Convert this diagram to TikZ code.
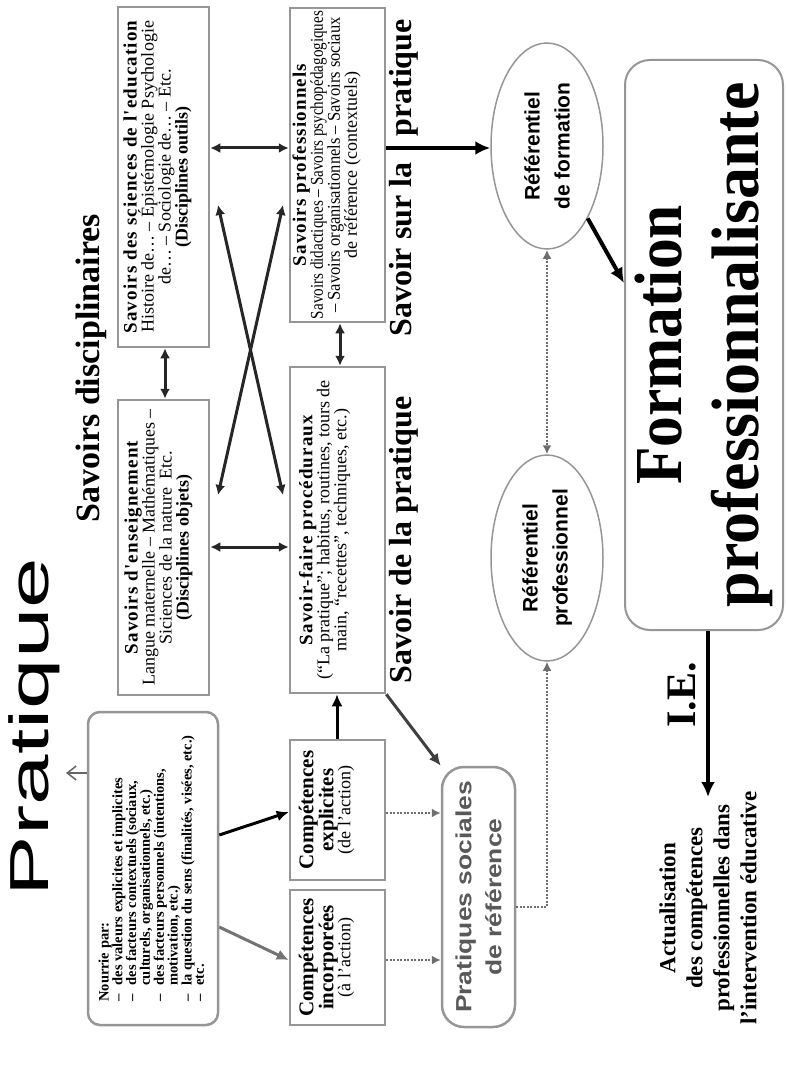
\documentclass[tikz,border=0pt]{standalone}
\usepackage{fontspec}
\setmainfont{Liberation Serif}
\newfontfamily\arialf{Liberation Sans}
\newfontfamily\spacedserif[LetterSpace=6]{Liberation Serif}
\usetikzlibrary{arrows.meta,shapes.geometric,calc}
\definecolor{boxgray}{RGB}{150,150,150}
\definecolor{dotgray}{RGB}{110,110,110}
\newcommand\myfs[2]{\fontsize{#1}{#2}\selectfont}
\newcommand\cbf[1]{{\bfseries\myfs{21}{17}#1}}
\begin{document}
\begin{tikzpicture}[x=1pt,y=-1pt,
  box/.style={draw=boxgray, line width=2.5pt, rotate=90, inner sep=0pt, fill=white},
  rbox/.style={box, rounded corners=#1},
  btext/.style={rotate=90, inner sep=0pt, align=center, font=\myfs{18}{17}},
  ell/.style={draw=boxgray, line width=1.5pt, ellipse, rotate=90, inner sep=0pt, align=center, font=\arialf\bfseries\myfs{21}{30}},
  rtext/.style={rotate=90, inner sep=0pt, align=center},
  heading/.style={rtext, font=\bfseries\myfs{32}{32}},
  thickarr/.style={line width=4pt, -{Latex[length=15pt,width=14pt]}},
  dblarr/.style={line width=3pt, black!85, {Latex[length=10pt,width=10pt]}-{Latex[length=10pt,width=10pt]}},
  sarr/.style={line width=3pt, -{Latex[length=12pt,width=11pt]}},
  dotarr/.style={line width=2pt, dotgray, dash pattern=on 2pt off 1.5pt, -{Latex[length=9pt,width=9pt]}},
  dotdbl/.style={line width=2pt, dotgray, dash pattern=on 2pt off 1.5pt, {Latex[length=9pt,width=9pt]}-{Latex[length=9pt,width=9pt]}}
]
\useasboundingbox (0,0) rectangle (786,1067);
\fill[white] (0,0) rectangle (786,1067);

% titles
\node[rtext, font=\arialf\myfs{55}{55}] (prat) at (34,727) {\scalebox{1.65}[1]{Pratique}};
\node[heading, font=\bfseries\myfs{34}{34}] (sdisc) at (91,368) {Savoirs disciplinaires};
\node[heading] (sdlp) at (404,540) {Savoir de la pratique};
\node[heading] (sslp) at (404,178) {Savoir sur la\hspace{26pt}pratique};

% boxes (shapes)
\node[box, minimum width=340pt, minimum height=91pt] (sci) at (163.5,177) {};
\node[box, minimum width=295pt, minimum height=91pt] (ens) at (163.5,547.5) {};
\node[box, minimum width=314pt, minimum height=95pt] (pro) at (337.5,165) {};
\node[box, minimum width=326pt, minimum height=95pt] (sf) at (337.5,530) {};
\node[box, minimum width=140pt, minimum height=95pt] (cexp) at (337.5,810) {};
\node[box, minimum width=135pt, minimum height=95pt] (cinc) at (337.5,957.5) {};

% box texts
\node[btext] (scit) at ([xshift=-6pt]sci.center)
  {{\spacedserif\bfseries\myfs{19}{17}Savoirs des sciences de l'education}\\
   Histoire de\ldots{} -- Épistémologie Psychologie\\
   de\ldots{} -- Sociologie de\ldots{} -- Etc.\\
   \textbf{(Disciplines outils)}};
\node[btext] (enst) at ([xshift=-5pt]ens.center)
  {{\spacedserif\bfseries\myfs{19}{17}Savoirs d'enseignement}\\
   Langue maternelle -- Mathématiques --\\
   Siciences de la nature~~Etc.\\
   \textbf{(Disciplines objets)}};
\node[btext] (prot) at ([xshift=-11pt]pro.center)
  {{\spacedserif\bfseries\myfs{19}{17}Savoirs professionnels}\\
   \scalebox{0.84}[1]{Savoirs didactiques -- Savoirs psychopédagogiques}\\
   \scalebox{0.92}[1]{-- Savoirs organisationnels -- Savoirs sociaux}\\
   de référence (contextuels)};
\node[btext] (sft) at ([xshift=-13pt]sf.center)
  {{\spacedserif\bfseries\myfs{19}{17}Savoir-faire procéduraux}\\
   (“La pratique”; habitus, routines, tours de\\
   main, “recettes”, techniques, etc.)};
\node[btext] (cexpt) at ([xshift=-11pt]cexp.center)
  {\cbf{Compétences}\\ \cbf{explicites}\\ (de l'action)};
\node[btext] (cinct) at ([xshift=-11pt]cinc.center)
  {\cbf{Compétences}\\ \cbf{incorporées}\\ (à l'action)};

\node[rbox=12pt, minimum width=313pt, minimum height=130pt, align=center, font=\bfseries\myfs{14.5}{12.3}] (nour) at (153,868.5)
  {\begin{tabular}{@{}l@{\hspace{9pt}}l@{}}
   \multicolumn{2}{@{}l}{Nourrie par:}\\
   -- & des valeurs explicites et implicites\\
   -- & des facteurs contextuels (sociaux,\\
      & culturels, organisationnels, etc.)\\
   -- & des facteurs personnels (intentions,\\
      & motivation, etc.)\\
   -- & la question du sens (finalités, visées, etc.)\\
   -- & etc.
   \end{tabular}};
\node[rbox=22pt, minimum width=260pt, minimum height=73pt, align=center, font=\arialf\bfseries\myfs{22}{30}, text=black!65] (psr) at (478.5,897)
  {\scalebox{1.2}[1]{Pratiques sociales}\\ \scalebox{1.2}[1]{de référence}};
\node[ell, minimum width=206pt, minimum height=112pt] (ef) at (547,146) {Référentiel\\ de formation};
\node[ell, minimum width=206pt, minimum height=112pt] (ep) at (547,558) {Référentiel\\ professionnel};
\node[rbox=25pt, line width=2pt, minimum width=570pt, minimum height=158pt, align=center, font=\bfseries\myfs{64}{77}] (form) at (704,345)
  {\scalebox{0.96}[1.05]{Formation}\\ \scalebox{1.0}[1.05]{professionnalisante}};
\node[rtext, font=\bfseries\myfs{42}{42}] (ie) at (682,695) {I.E.};
\node[rtext, font=\bfseries\myfs{23}{27}] (act) at (708,908)
  {Actualisation\\ des compétences\\ professionnelles dans\\ l'intervention éducative};

% level coordinates
\coordinate (h148) at (0,148);
\coordinate (h547) at (0,547);
\coordinate (h813) at (0,813);
\coordinate (h960) at (0,960);
\coordinate (h907) at (0,907);
\coordinate (h835) at (0,835);
\coordinate (h927) at (0,927);
\coordinate (h773) at (0,773);
\coordinate (h812) at (0,812);
\coordinate (h283) at (0,283);
\coordinate (v165) at (165,0);
\coordinate (v340) at (340,0);
\coordinate (v337) at (337,0);
\coordinate (xa) at (218,205);
\coordinate (xb) at (283,495);
\coordinate (xc) at (283,205);
\coordinate (xd) at (218,495);
\coordinate (ietip) at (708,797);
\coordinate (ptip) at (66,773);

% connectors
\draw[dblarr] (sci.south |- h148) -- (pro.north |- h148);
\draw[dblarr] (ens.south |- h547) -- (sf.north |- h547);
\draw[dblarr] (sci.west -| v165) -- (ens.east -| v165);
\draw[dblarr] (pro.west -| v340) -- (sf.east -| v340);
\draw[dblarr] (xa) -- (xb);
\draw[dblarr] (xc) -- (xd);
\draw[thickarr] (pro.south |- h148) -- (ef.north |- h148);
\draw[thickarr] (ef) -- (form.north |- h283);
\draw[thickarr] (form.west -| ietip) -- (ietip);
\draw[dotdbl] (ef.west) -- (ep.east);
\draw[dotarr] (psr.south |- h907) -| (ep.west);
\draw[dotarr] (cexp.south |- h813) -- (psr.north |- h813);
\draw[dotarr] (cinc.south |- h960) -- (psr.north |- h960);
\draw[sarr, black!75] (sf.south west) -- (psr.north east);
\draw[sarr] (cexp.east -| v337) -- (sf.west -| v337);
\draw[sarr] (nour.south |- h835) -- (cexp.north |- h812);
\draw[sarr, black!55] (nour.south |- h927) -- (cinc.north |- h960);
\draw[line width=1.5pt, black!60, -{Straight Barb[length=9pt,width=14pt]}] (nour.north |- h773) -- (ptip);
\end{tikzpicture}
\end{document}
